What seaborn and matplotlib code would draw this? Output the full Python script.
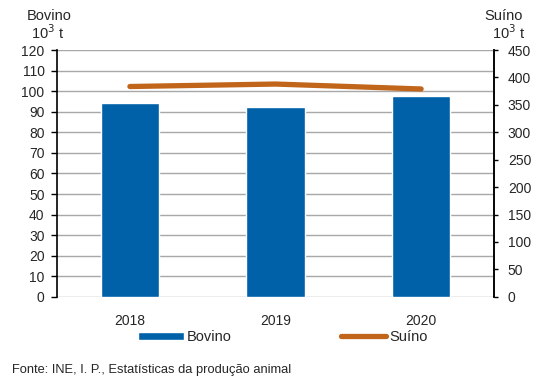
import matplotlib
matplotlib.use("Agg")
import matplotlib.pyplot as plt
import seaborn as sns
import pandas as pd
from matplotlib.lines import Line2D
from matplotlib.patches import Patch

years = ["2018", "2019", "2020"]
bovino = [94.2, 92.2, 97.6]
suino = [383.5, 388.0, 379.0]

sns.set_theme(style="white")
plt.rcParams['font.family'] = ['Liberation Sans', 'DejaVu Sans']

bar_color = "#0060A8"
line_color = "#C0651A"
fs = 10

fig = plt.figure(figsize=(5.6, 3.85), dpi=100)
ax = fig.add_axes([0.102, 0.229, 0.78, 0.641])
df = pd.DataFrame({"year": years, "Bovino": bovino, "Suino": suino})
sns.barplot(data=df, x="year", y="Bovino", color=bar_color, width=0.4, ax=ax,
            saturation=1, zorder=3)
ax.set_ylim(0, 120)
ax.set_yticks(range(0, 121, 10))
ax.set_xlim(-0.5, 2.5)
ax.yaxis.grid(True, color="#A8A8A8", linewidth=1.0, zorder=0)
ax.set_axisbelow(True)
ax.set_xlabel("")
ax.set_ylabel("")
for s in ["top", "bottom"]:
    ax.spines[s].set_visible(False)
ax.spines["left"].set_color("black")
ax.spines["left"].set_linewidth(1.2)
ax.tick_params(axis="y", left=True, length=4, width=1, color="black", labelsize=fs, pad=5)
ax.tick_params(axis="x", bottom=False, labelsize=fs, pad=6)

ax2 = ax.twinx()
sns.lineplot(x=[0, 1, 2], y=suino, ax=ax2, color=line_color, linewidth=3.8,
             solid_capstyle="round", zorder=4)
ax2.set_ylim(0, 450)
ax2.set_yticks(range(0, 451, 50))
for s in ["top", "bottom", "left"]:
    ax2.spines[s].set_visible(False)
ax2.spines["right"].set_color("black")
ax2.spines["right"].set_linewidth(1.2)
ax2.tick_params(axis="y", right=True, length=3, width=1, color="black", labelsize=fs, pad=7)
ax2.set_ylabel("")

fs_t = 10.5
fig.text(0.088, 0.959, "Bovino", ha="center", va="center", fontsize=fs_t)
fig.text(0.086, 0.914, "10$^3$ t", ha="center", va="center", fontsize=fs_t)
fig.text(0.90, 0.959, "Suíno", ha="center", va="center", fontsize=fs_t)
fig.text(0.908, 0.914, "10$^3$ t", ha="center", va="center", fontsize=fs_t)

handles = [Patch(facecolor=bar_color, label="Bovino"),
           Line2D([0], [0], color=line_color, linewidth=3.8, solid_capstyle="round", label="Suíno")]
fig.legend(handles=handles, loc="center", bbox_to_anchor=(0.505, 0.125), ncol=2,
           frameon=False, fontsize=fs_t, columnspacing=7.5, handlelength=3.1,
           handleheight=0.5, handletextpad=0.2)

fig.text(0.022, 0.039, "Fonte: INE, I. P., Estatísticas da produção animal",
         ha="left", va="center", fontsize=9.3)

fig.savefig("out.png", dpi=100)
